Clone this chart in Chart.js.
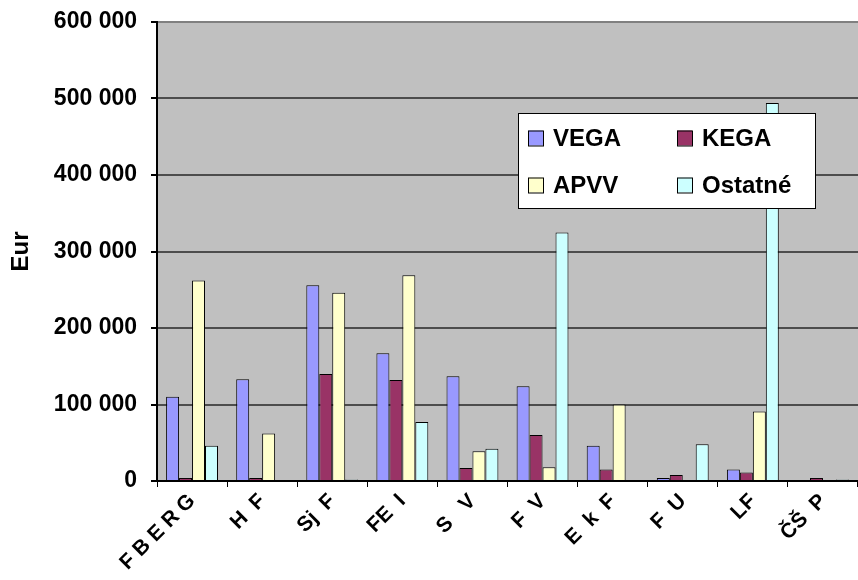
<!DOCTYPE html>
<html>
<head>
<meta charset="utf-8">
<script src="https://cdn.jsdelivr.net/npm/chart.js@4/dist/chart.umd.min.js"></script>
<style>
  html, body { margin: 0; padding: 0; background: #ffffff; }
  #wrap { width: 858px; height: 580px; }
</style>
</head>
<body>
<div id="wrap"><canvas id="c" width="858" height="580"></canvas></div>
<script>
// Faculties (category labels)
const categories = ["F B E R G", "H  F", "Sj  F", "FE  I", "S   V", "F  V", "E  k  F", "F  U", "LF", "ČŠ  P"];

// Funding per grant programme, in Eur
const vega    = [110000, 133000, 256000, 167000, 137000, 124000, 46000, 4000, 15000, 0];
const kega    = [4000, 4000, 140000, 132000, 17000, 60000, 15000, 8000, 11000, 4000];
const apvv    = [262000, 62000, 246000, 269000, 39000, 18000, 100000, 0, 91000, 0];
const ostatne = [46000, 0, 2000, 77000, 42000, 325000, 0, 48000, 494000, 2000];

const seriesNames = ["VEGA", "KEGA", "APVV", "Ostatné"];
const yTicks = [0, 100000, 200000, 300000, 400000, 500000, 600000];

const colors = ["#9999FF", "#993366", "#FFFFCC", "#CCFFFF"];
const FONT = "'Liberation Sans', Arial, sans-serif";

function fmt(v) {
  return String(v).replace(/\B(?=(\d{3})+(?!\d))/g, " ");
}

// Grey plot background
const plotBg = {
  id: "plotBg",
  beforeDraw(chart) {
    const { ctx, chartArea: a } = chart;
    ctx.save();
    ctx.fillStyle = "#C0C0C0";
    ctx.fillRect(a.left, a.top, a.right - a.left, a.bottom - a.top);
    ctx.restore();
  }
};

// Two-column legend box placed inside the plot
const boxLegend = {
  id: "boxLegend",
  afterDraw(chart) {
    const ctx = chart.ctx;
    const x0 = 518, y0 = 113, w = 297, h = 95;
    ctx.save();
    ctx.fillStyle = "#ffffff";
    ctx.fillRect(x0, y0, w, h);
    ctx.strokeStyle = "#000000";
    ctx.lineWidth = 1;
    ctx.strokeRect(x0 + 0.5, y0 + 0.5, w, h);
    const cols = [528, 677];
    const rows = [138, 185];
    ctx.font = "bold 24px " + FONT;
    ctx.textBaseline = "middle";
    chart.data.datasets.forEach((ds, i) => {
      const cx = cols[i % 2], cy = rows[Math.floor(i / 2)];
      ctx.fillStyle = ds.backgroundColor;
      ctx.fillRect(cx, cy - 7.5, 15, 15);
      ctx.strokeStyle = "#000";
      ctx.strokeRect(cx + 0.5, cy - 7.5 + 0.5, 15, 15);
      ctx.fillStyle = "#000";
      ctx.fillText(ds.label, cx + 25, cy + 1);
    });
    ctx.restore();
  }
};

const seriesData = [vega, kega, apvv, ostatne];

new Chart(document.getElementById("c"), {
  type: "bar",
  data: {
    labels: categories,
    datasets: seriesData.map((d, i) => ({
      label: seriesNames[i],
      data: d,
      backgroundColor: colors[i],
      borderColor: "#000000",
      borderWidth: 1,
      barPercentage: 1.0,
      categoryPercentage: 0.74
    }))
  },
  options: {
    responsive: false,
    animation: false,
    devicePixelRatio: 1,
    layout: { padding: { top: 22, right: -6, left: 0, bottom: 0 } },
    plugins: {
      legend: { display: false },
      tooltip: { enabled: false }
    },
    scales: {
      x: {
        offset: true,
        grid: {
          offset: true,
          drawOnChartArea: false,
          drawTicks: true,
          tickLength: 6,
          tickColor: "#000000",
          color: "#000000"
        },
        border: { color: "#000000", width: 2 },
        ticks: {
          autoSkip: false,
          minRotation: 45,
          maxRotation: 45,
          padding: 2,
          color: "#000000",
          font: { family: FONT, size: 21, weight: "bold" }
        },
        afterFit(scale) { scale.height = 99; }
      },
      y: {
        min: 0,
        max: 600000,
        afterBuildTicks(scale) { scale.ticks = yTicks.map(v => ({ value: v })); },
        grid: {
          drawTicks: true,
          tickLength: 6,
          tickColor: "#000000",
          lineWidth: 2,
          color(ctx) {
            return ctx.tick && ctx.tick.value === 600000 ? "#808080" : "#4d4d4d";
          }
        },
        border: { color: "#000000", width: 2 },
        ticks: {
          padding: 14,
          color: "#000000",
          font: { family: FONT, size: 23, weight: "bold" },
          callback: v => fmt(v)
        },
        title: {
          display: true,
          text: "Eur",
          color: "#000000",
          padding: { top: 7, bottom: 0 },
          font: { family: FONT, size: 24, weight: "bold" }
        },
        afterFit(scale) {
          scale.width = 157;
          scale.paddingTop = 0;
          scale.paddingBottom = 0;
        }
      }
    }
  },
  plugins: [plotBg, boxLegend]
});
</script>
</body>
</html>
